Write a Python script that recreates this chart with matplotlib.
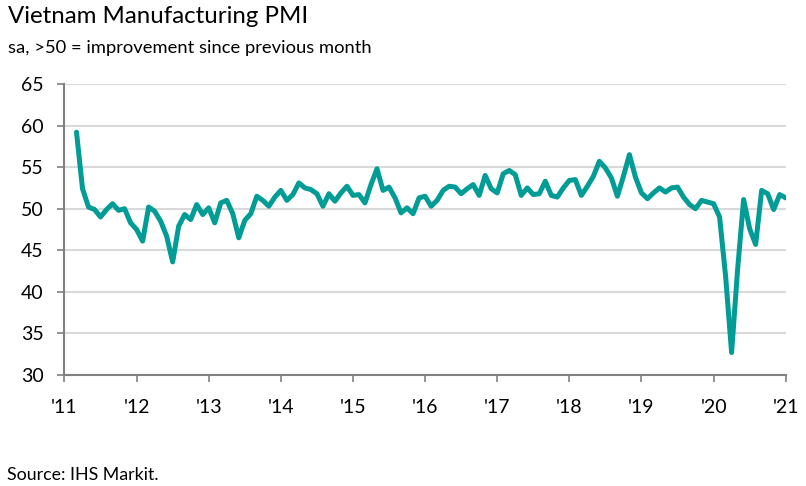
"""
Vietnam Manufacturing PMI, monthly, Mar 2011 - Jan 2021 (IHS Markit).
Writes out.png at 806x486.
"""

import numpy as np
import matplotlib
matplotlib.use('Agg')
import matplotlib.pyplot as plt

plt.rcParams['font.family'] = ['Lato', 'DejaVu Sans']

# monthly PMI readings, series starts March 2011
start_year = 2011
start_month = 3
pmi_2011 = [59.2, 52.4, 50.2, 49.9, 49.0, 49.9, 50.6, 49.8, 50.0, 48.3]
pmi_2012 = [47.5, 46.1, 50.2, 49.7, 48.5, 46.7, 43.6, 47.9, 49.3, 48.7, 50.5, 49.3]
pmi_2013 = [50.1, 48.3, 50.7, 51.0, 49.4, 46.5, 48.6, 49.4, 51.5, 51.0, 50.3, 51.4]
pmi_2014 = [52.2, 51.0, 51.7, 53.1, 52.5, 52.3, 51.8, 50.3, 51.8, 50.9, 51.9, 52.7]
pmi_2015 = [51.6, 51.7, 50.7, 52.9, 54.8, 52.2, 52.6, 51.3, 49.5, 50.1, 49.4, 51.3]
pmi_2016 = [51.5, 50.3, 51.0, 52.2, 52.7, 52.6, 51.8, 52.4, 52.9, 51.6, 54.0, 52.4]
pmi_2017 = [51.9, 54.2, 54.6, 54.1, 51.6, 52.5, 51.7, 51.8, 53.3, 51.6, 51.4, 52.5]
pmi_2018 = [53.4, 53.5, 51.6, 52.7, 53.9, 55.7, 54.9, 53.7, 51.5, 53.9, 56.5, 53.8]
pmi_2019 = [51.9, 51.2, 51.9, 52.5, 52.0, 52.5, 52.6, 51.4, 50.5, 50.0, 51.0, 50.8]
pmi_2020 = [50.6, 49.0, 41.9, 32.7, 42.7, 51.1, 47.6, 45.7, 52.2, 51.8, 49.9, 51.7]
pmi_2021 = [51.3]

year_ticks = list(range(2011, 2022))
year_labels = ["'11", "'12", "'13", "'14", "'15", "'16", "'17", "'18", "'19", "'20", "'21"]
y_ticks = [30, 35, 40, 45, 50, 55, 60, 65]

LINE = '#009c95'
GRID = '#d9d9d9'
AXIS = '#808080'


def main():
	pmi = (pmi_2011 + pmi_2012 + pmi_2013 + pmi_2014 + pmi_2015 + pmi_2016
		+ pmi_2017 + pmi_2018 + pmi_2019 + pmi_2020 + pmi_2021)
	# month index -> decimal year, January sits on the year tick
	t = start_year + (start_month - 1 + np.arange(len(pmi))) / 12

	fig = plt.figure(figsize=(8.06, 4.86), dpi=100)
	ax = fig.add_axes([0.080, 0.2284, 0.8948, 0.5988])

	ax.plot(t, pmi, color=LINE, linewidth=3.6,
		solid_joinstyle='round', solid_capstyle='round', zorder=3)

	ax.set_xlim(year_ticks[0], year_ticks[-1])
	ax.set_ylim(y_ticks[0], y_ticks[-1])
	ax.set_xticks(year_ticks)
	ax.set_xticklabels(year_labels)
	ax.set_yticks(y_ticks)

	ax.grid(axis='y', color=GRID, linewidth=1.5, zorder=0)
	ax.set_axisbelow(True)
	for side in ('top', 'right'):
		ax.spines[side].set_visible(False)
	for side in ('left', 'bottom'):
		ax.spines[side].set_color(AXIS)
		ax.spines[side].set_linewidth(1.5)
		ax.spines[side].set_zorder(4)

	ax.tick_params(axis='y', length=5, width=1.2, color=AXIS, pad=10,
		labelsize=14, labelcolor='black')
	ax.tick_params(axis='x', length=5, width=1.2, color=AXIS, pad=12,
		labelsize=14, labelcolor='black')

	fig.text(0.0099, 0.953, 'Vietnam Manufacturing PMI', fontsize=17.3,
		ha='left', va='baseline')
	fig.text(0.0099, 0.890, 'sa, >50 = improvement since previous month',
		fontsize=13.2, ha='left', va='baseline')
	fig.text(0.0087, 0.0125, 'Source: IHS Markit.', fontsize=12.8,
		ha='left', va='baseline')

	fig.savefig('out.png', dpi=100)


if __name__ == '__main__':
	main()
